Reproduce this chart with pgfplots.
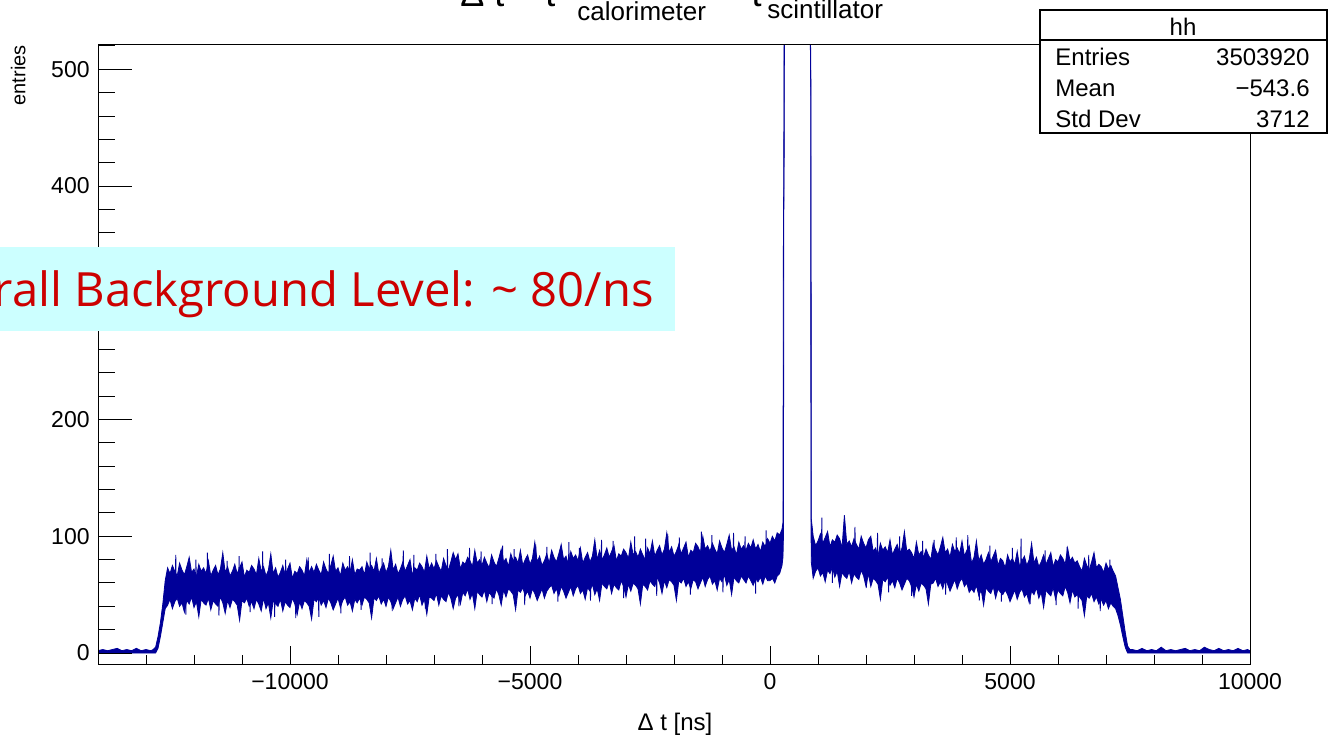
\documentclass[border=0pt]{standalone}
\usepackage{fontspec}
\setmainfont{Liberation Sans}
\newfontfamily\opensans{Open Sans}
\usepackage{pgfplots}
\usepackage{pgfplotstable}
\pgfplotsset{compat=1.18}
\usepgfplotslibrary{fillbetween}
\definecolor{rootblue}{RGB}{0,0,153}
\definecolor{notecyan}{RGB}{204,255,255}
\definecolor{notered}{RGB}{204,0,0}

\pgfplotstableread{
x up lo
-14000 2 0
-13900 3 0
-13800 2 0
-13700 3 0
-13600 4 0
-13500 2 0
-13400 3 0
-13300 2 0
-13200 4 0
-13100 2 0
-13000 3 0
-12900 2 0
-12850 3 0
-12800 5 0
-12750 14 4
-12700 26 14
-12650 42 26
-12600 62 38
-12550 73 41
-12500 68 46
-12450 75 38
-12400 70 44
-12350 66 47
-12300 77 40
-12250 71 43
-12200 67 35
-12150 74 45
-12100 82 42
-12050 69 48
-12000 72 39
-11950 65 44
-11900 76 31
-11850 70 46
-11800 73 43
-11750 68 41
-11700 79 47
-11650 66 37
-11600 71 45
-11550 75 42
-11500 67 40
-11450 72 48
-11400 86 43
-11350 69 34
-11300 74 45
-11250 66 39
-11200 70 46
-11150 76 44
-11100 68 41
-11050 73 28
-11000 78 45
-10950 65 43
-10900 71 47
-10850 69 40
-10800 75 44
-10750 72 38
-10700 67 46
-10650 81 42
-10600 70 36
-10550 74 47
-10500 66 38
-10450 71 43
-10400 85 30
-10350 68 45
-10300 73 42
-10250 65 40
-10200 69 46
-10150 75 36
-10100 67 44
-10050 72 41
-10000 77 39
-9950 64 47
-9900 70 42
-9850 68 33
-9800 74 44
-9750 71 38
-9700 66 45
-9650 80 43
-9600 69 40
-9550 74 29
-9500 69 46
-9450 76 44
-9400 71 48
-9350 67 41
-9300 78 45
-9250 72 39
-9200 68 47
-9150 75 43
-9100 83 37
-9050 70 42
-9000 73 47
-8950 66 39
-8900 77 45
-8850 71 48
-8800 74 41
-8750 69 44
-8700 80 36
-8650 67 46
-8600 72 43
-8550 71 47
-8500 74 41
-8450 67 48
-8400 78 46
-8350 72 43
-8300 75 30
-8250 70 47
-8200 81 45
-8150 68 49
-8100 73 42
-8050 77 46
-8000 69 40
-7950 74 48
-7900 88 44
-7850 71 38
-7800 76 43
-7750 68 48
-7700 72 40
-7650 78 46
-7600 70 49
-7550 75 42
-7500 80 45
-7450 67 37
-7400 73 47
-7350 71 44
-7300 77 50
-7250 74 41
-7200 69 46
-7150 83 33
-7100 72 48
-7050 77 47
-7000 72 45
-6950 79 51
-6900 74 41
-6850 70 49
-6800 81 46
-6750 75 44
-6700 71 52
-6650 78 47
-6600 86 38
-6550 80 47
-6500 85 50
-6450 72 42
-6400 78 52
-6350 76 49
-6300 82 55
-6250 79 46
-6200 74 51
-6150 88 38
-6100 77 53
-6050 80 50
-6000 75 48
-5950 82 54
-5900 77 44
-5850 73 52
-5800 84 49
-5750 78 47
-5700 74 55
-5650 81 50
-5600 89 41
-5550 78 54
-5500 81 48
-5450 74 55
-5400 85 53
-5350 79 50
-5300 82 37
-5250 77 54
-5200 88 52
-5150 75 56
-5100 80 49
-5050 84 53
-5000 76 47
-4950 81 55
-4900 95 51
-4850 78 45
-4800 83 50
-4750 75 55
-4700 79 47
-4650 85 53
-4600 77 56
-4550 88 58
-4500 82 51
-4450 78 55
-4400 85 49
-4350 93 57
-4300 80 53
-4250 83 47
-4200 76 52
-4150 87 57
-4100 81 49
-4050 84 55
-4000 79 58
-3950 90 51
-3900 77 54
-3850 82 46
-3800 86 56
-3750 78 53
-3700 83 59
-3650 97 50
-3600 80 55
-3550 88 45
-3500 80 60
-3450 84 57
-3400 90 55
-3350 82 61
-3300 87 51
-3250 92 59
-3200 79 56
-3150 85 54
-3100 83 62
-3050 89 57
-3000 86 48
-2950 81 59
-2900 95 53
-2850 84 60
-2800 87 58
-2750 82 55
-2700 89 42
-2650 84 59
-2600 80 57
-2550 90 54
-2500 85 62
-2450 96 59
-2400 83 57
-2350 88 65
-2300 92 60
-2250 84 51
-2200 89 62
-2150 103 56
-2100 86 63
-2050 91 61
-2000 83 58
-1950 87 45
-1900 93 62
-1850 85 60
-1800 90 64
-1750 95 57
-1700 82 61
-1650 88 55
-1600 86 63
-1550 94 61
-1500 91 55
-1450 86 60
-1400 100 65
-1350 89 57
-1300 92 63
-1250 87 66
-1200 94 59
-1150 89 62
-1100 85 54
-1050 96 64
-1000 90 61
-950 86 67
-900 93 58
-850 101 63
-800 88 50
-750 91 65
-700 84 62
-650 95 60
-600 89 66
-550 92 63
-500 88 60
-450 94 66
-400 90 62
-350 97 58
-300 89 64
-250 93 61
-200 87 65
-150 95 59
-100 91 66
-50 98 62
0 94 62
50 100 64
100 96 60
150 103 66
200 101 68
250 106 75
270 112 82
280 375 100
288 405 378
292 521.7 400
300 521.7 521.7
840 521.7 521.7
845 521.7 504
849 504 476
853 478 118
860 115 78
900 100 64
950 92 70
1000 96 73
1050 102 66
1100 94 69
1150 99 61
1200 104 71
1250 91 68
1300 97 74
1350 95 65
1400 101 70
1450 98 57
1500 90 69
1550 118 66
1600 93 64
1650 96 70
1700 91 60
1750 98 68
1800 93 65
1850 89 63
1900 100 71
1950 94 66
2000 90 57
2050 97 68
2100 100 57
2150 87 64
2200 90 62
2250 83 59
2300 94 46
2350 88 63
2400 91 61
2450 86 65
2500 97 58
2550 84 62
2600 89 56
2650 93 64
2700 85 60
2750 90 54
2800 104 59
2850 87 64
2900 89 62
2950 86 57
3000 81 48
3050 95 59
3100 84 53
3150 87 60
3200 82 58
3250 89 55
3300 84 42
3350 80 59
3400 94 60
3450 88 64
3500 84 57
3550 91 61
3600 99 55
3650 86 63
3700 89 59
3750 82 53
3800 93 58
3850 87 63
3900 90 55
3950 85 61
4000 96 64
4050 83 57
4100 88 60
4150 92 52
4200 77 55
4250 82 52
4300 96 58
4350 79 49
4400 84 54
4450 76 41
4500 80 56
4550 86 53
4600 78 51
4650 83 57
4700 88 47
4750 75 55
4800 81 52
4850 79 50
4900 73 54
4950 84 50
5000 78 44
5050 81 49
5100 76 54
5150 87 46
5200 74 52
5250 79 55
5300 83 48
5350 75 51
5400 80 43
5450 94 53
5500 77 50
5550 82 56
5600 74 47
5650 78 52
5700 84 39
5750 76 54
5800 81 51
5850 86 49
5900 74 56
5950 80 46
6000 78 54
6050 84 51
6100 81 49
6150 76 57
6200 90 52
6250 79 43
6300 82 54
6350 77 48
6400 79 50
6450 74 48
6500 70 45
6550 81 32
6600 75 49
6650 71 47
6700 78 51
6750 86 44
6800 73 48
6850 76 42
6900 74 46
6950 69 41
7000 77 45
7050 72 38
7100 75 43
7150 70 40
7200 66 38
7250 56 32
7300 46 24
7350 32 14
7400 18 5
7450 6 0
7500 3 0
7550 3 0
7650 2 0
7750 4 0
7850 2 0
7950 3 0
8050 2 0
8150 5 0
8250 2 0
8350 3 0
8450 2 0
8550 3 0
8650 4 0
8750 2 0
8850 3 0
8950 2 0
9050 5 0
9150 3 0
9250 2 0
9350 4 0
9450 2 0
9550 3 0
9650 2 0
9750 4 0
9850 2 0
9950 3 0
10000 2 0
}\band

% single-bin fluctuations sticking out of the band (left of the peak)
\pgfplotstableread{
x y
-12390 57
-12380 84
-12370 57
-12180 57
-12170 33
-12160 57
-11970 57
-11960 80
-11950 57
-11730 57
-11720 86
-11710 57
-11490 57
-11480 32
-11470 57
-11320 57
-11310 79
-11300 57
-11070 57
-11060 83
-11050 57
-10840 57
-10830 35
-10820 57
-10580 57
-10570 87
-10560 57
-10330 56
-10320 31
-10310 56
-10100 56
-10090 80
-10080 56
-9890 56
-9880 30
-9870 56
-9630 56
-9620 82
-9610 56
-9410 57
-9400 31
-9390 57
-9190 57
-9180 85
-9170 57
-8950 58
-8940 34
-8930 58
-8770 58
-8760 83
-8750 58
-8530 59
-8520 37
-8510 59
-8340 59
-8330 86
-8320 59
-8090 59
-8080 81
-8070 59
-7880 59
-7870 36
-7860 59
-7650 60
-7640 88
-7630 60
-7430 60
-7420 84
-7410 60
-7190 60
-7180 38
-7170 60
-6970 62
-6960 85
-6950 62
-6730 62
-6720 89
-6710 62
-6490 64
-6480 40
-6470 64
-6270 64
-6260 90
-6250 64
-6030 64
-6020 87
-6010 64
-5800 64
-5790 42
-5780 64
-5580 66
-5570 92
-5560 66
-5340 66
-5330 89
-5320 66
-5120 66
-5110 41
-5100 66
-4890 66
-4880 93
-4870 66
-4660 66
-4650 91
-4640 66
-4430 68
-4420 44
-4410 68
-4200 68
-4190 95
-4180 68
-3980 68
-3970 90
-3960 68
-3750 68
-3740 45
-3730 68
-3520 71
-3510 97
-3500 71
-3280 71
-3270 96
-3260 71
-3060 71
-3050 47
-3040 71
-2830 71
-2820 100
-2810 71
-2600 72
-2590 98
-2580 72
-2370 74
-2360 49
-2350 74
-2140 74
-2130 102
-2120 74
-1900 74
-1890 99
-1880 74
-1670 74
-1660 50
-1650 74
-1440 76
-1430 104
-1420 76
-1220 76
-1210 101
-1200 76
-990 76
-980 52
-970 76
-770 76
-760 103
-750 76
-530 77
-520 100
-510 77
-310 77
-300 51
-290 77
-90 78
-80 105
-70 78
}\spikesL

% single-bin fluctuations sticking out of the band (right of the peak)
\pgfplotstableread{
x y
1070 83
1080 116
1090 83
1290 83
1300 60
1310 83
1760 80
1770 108
1780 80
2000 80
2010 56
2020 80
2230 75
2240 103
2250 75
2460 75
2470 52
2480 75
2690 75
2700 100
2710 75
2940 71
2950 49
2960 71
3170 71
3180 96
3190 71
3410 74
3420 97
3430 74
3650 74
3660 50
3670 74
3870 74
3880 99
3890 74
4110 74
4120 101
4130 74
4350 67
4360 45
4370 67
4570 67
4580 92
4590 67
4810 67
4820 44
4830 67
5040 65
5050 90
5060 65
5220 65
5230 98
5240 65
5410 65
5420 42
5430 65
5720 65
5730 88
5740 65
5950 65
5960 41
5970 65
6180 65
6190 91
6200 65
6410 60
6420 38
6430 60
6630 60
6640 84
6650 60
6870 58
6880 36
6890 58
7070 58
7080 80
7090 58
}\spikesR

\begin{document}
\begin{tikzpicture}
\pgfplotsset{rootaxis/.style={
  at={(49pt,36pt)}, anchor=south west, scale only axis,
  width=576pt, height=310pt,
  xmin=-14000, xmax=10000, ymin=-9.4, ymax=521.7,
  axis line style={black, line width=0.5pt},
  tick style={black, line width=0.5pt},
  tick align=inside,
  scaled x ticks=false, scaled y ticks=false,
  tick label style={font=\fontsize{11.5}{13}\selectfont},
}}
\begin{axis}[rootaxis,
  ytick=\empty,
  xtick={-10000,-5000,0,5000,10000},
  xticklabels={−10000,−5000,0,5000,10000},
  minor xtick={-13000,-12000,...,9000},
  xtick pos=left,
  major tick length=9pt, minor tick length=4.5pt,
  x tick label style={inner sep=0pt, anchor=north, yshift=-4.5pt},
  clip=true,
]
\addplot[name path=up, rootblue, line width=0.4pt] table[x=x,y=up]{\band};
\addplot[name path=lo, rootblue, line width=0.4pt] table[x=x,y=lo]{\band};
\addplot[fill=rootblue, draw=none] fill between[of=up and lo];
\addplot[rootblue, line width=0.45pt] table[x=x,y=y]{\spikesL};
\addplot[rootblue, line width=0.45pt] table[x=x,y=y]{\spikesR};
\end{axis}
\begin{axis}[rootaxis,
  xtick=\empty,
  ytick={0,100,200,300,400,500},
  yticklabels={0,100,200,300,400,500},
  minor ytick={20,40,...,520},
  ytick pos=left,
  major tick length=17pt, minor tick length=8.5pt,
  y tick label style={inner sep=0pt, anchor=east, xshift=-4pt},
]
\addplot[draw=none] table[x=x,y=lo]{\band};
\end{axis}

% title (mostly above the picture)
\node[anchor=base west, inner sep=0pt, font=\fontsize{18}{18}\selectfont] at (230pt,364.75pt) {Δ t = t};
\node[anchor=base west, inner sep=0pt, font=\fontsize{13}{13}\selectfont] at (288.5pt,357.65pt) {calorimeter};
\node[anchor=base east, inner sep=0pt, font=\fontsize{18}{18}\selectfont] at (381pt,364.75pt) {− t};
\node[anchor=base west, inner sep=0pt, font=\fontsize{13}{13}\selectfont] at (383.5pt,358.85pt) {scintillator};

% axis titles
\node[anchor=base, inner sep=0pt, font=\fontsize{12}{12}\selectfont] at (337.5pt,3pt) {Δ t [ns]};
\node[rotate=90, anchor=base east, inner sep=0pt, font=\fontsize{10}{10}\selectfont] at (12.75pt,345.5pt) {entries};

% stats box
\draw[fill=white, line width=0.6pt] (520pt,301.5pt) rectangle (663.5pt,363pt);
\draw[line width=0.6pt] (520pt,348pt) -- (663.5pt,348pt);
\begin{scope}[every node/.style={inner sep=0pt, font=\fontsize{12}{12}\selectfont}]
\node[anchor=base] at (591.5pt,350.5pt) {hh};
\node[anchor=base west] at (527.5pt,335.5pt) {Entries};
\node[anchor=base east] at (655pt,335.5pt) {3503920};
\node[anchor=base west] at (527.5pt,320pt) {Mean};
\node[anchor=base east] at (655pt,320pt) {−543.6};
\node[anchor=base west] at (527.5pt,304.5pt) {Std Dev};
\node[anchor=base east] at (655pt,304.5pt) {3712};
\end{scope}

% annotation
\fill[notecyan] (-5pt,202.5pt) rectangle (337.5pt,244.5pt);
\node[anchor=base east, inner sep=0pt, text=notered, font=\opensans\fontsize{23.6}{24}\selectfont] at (327pt,214.65pt) {Overall Background Level: \char`\~{} 80/ns};

\pgfresetboundingbox
\useasboundingbox (0,0) rectangle (664pt,368pt);
\end{tikzpicture}
\end{document}
